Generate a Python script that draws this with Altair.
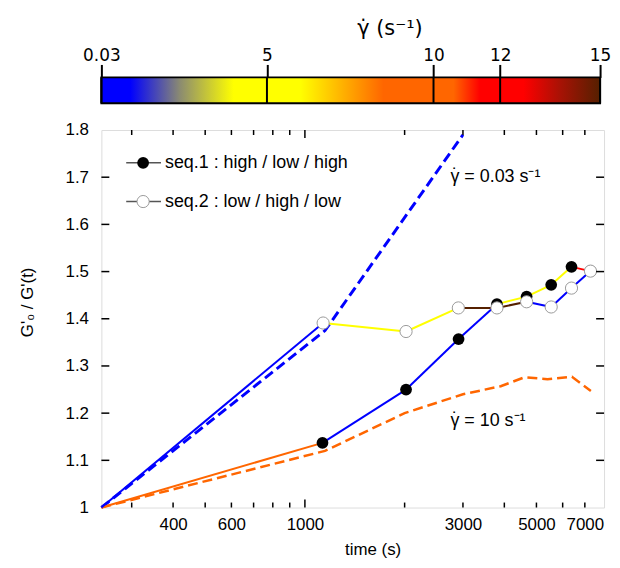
import altair as alt
import pandas as pd

# ---------------- data ----------------
T_START = 243
T_END = 8000
V_START = 1.0

seq1_t = [1130, 2020, 2910, 3800, 4670, 5540, 6380, 7280]
seq1_v = [1.137, 1.250, 1.357, 1.431, 1.447, 1.472, 1.510, 1.501]
seq1_rates = [10, 0.03, 0.03, 0.03, 5, 5, 5, 12]

seq2_t = [1135, 2020, 2905, 3800, 4670, 5540, 6380, 7280]
seq2_v = [1.391, 1.373, 1.423, 1.423, 1.436, 1.425, 1.465, 1.501]
seq2_rates = [0.03, 5, 5, 15, 15, 0.03, 0.03, 0.03]

ref003_t = [243, 1150, 3000]
ref003_v = [1.0, 1.375, 1.79]
ref10_t = [243, 1150, 2000, 3000, 3900, 4600, 5400, 6400, 7300]
ref10_v = [1.0, 1.12, 1.20, 1.24, 1.257, 1.276, 1.272, 1.277, 1.247]

cb_ticks = [0.03, 5, 10, 12, 15]
cb_stop_vals = [0.03, 0.9, 2.4, 4.0, 6.0, 8.5, 10.6, 11.4, 12.7, 13.8, 15]
cb_stop_cols = ["#0000ff", "#0000ff", "#8c8c70", "#ffff00", "#ffff00", "#ff6600",
                "#ff6600", "#ff0000", "#ff0000", "#a81205", "#552000"]

x_labels = [400, 600, 1000, 3000, 5000, 7000]
x_minor_ticks = [300, 400, 500, 600, 700, 800, 900, 2000, 3000, 4000, 5000, 6000, 7000]
x_major_ticks = [1000]
y_labels = [1.0, 1.1, 1.2, 1.3, 1.4, 1.5, 1.6, 1.7, 1.8]
y_ticks = [1.1, 1.2, 1.3, 1.4, 1.5, 1.6, 1.7]

legend_labels = ["seq.1 : high / low / high", "seq.2 : low / high / low"]
ann_t = [2750, 2750]
ann_v = [1.70, 1.183]
ann_text = ["γ = 0.03 s⁻¹", "γ = 10 s⁻¹"]

BLUE = "#0000ff"
ORANGE = "#ff6600"
FONT = "Liberation Sans"
CBFONT = "DejaVu Sans"
W, H = 506, 380
CBW, CBH = 502, 26

# ---------------- colour bar ----------------
lo, hi = min(cb_ticks), max(cb_ticks)
gradient = alt.LinearGradient(
    gradient="linear",
    stops=[alt.GradientStop(color=c, offset=(v - lo) / (hi - lo))
           for v, c in zip(cb_stop_vals, cb_stop_cols)],
    x1=0, x2=1, y1=0, y2=0,
)
cb_scale = alt.Scale(domain=[lo, hi], nice=False, zero=False)
cb_axis = alt.Axis(
    orient="top", values=cb_ticks, format="~g", grid=False, domain=False,
    tickSize=13, tickWidth=2, tickColor="black",
    labelFont=CBFONT, labelFontSize=17, labelColor="black", labelPadding=0,
    labelFlush=False, labelOverlap=False,
    title="γ̇ (s⁻¹)", titleFont=CBFONT, titleFontSize=21, titleFontWeight="normal",
    titleColor="black", titleX=290, titleY=-43, titleBaseline="alphabetic",
    titleAlign="center")
cb_rect = alt.Chart(pd.DataFrame({"lo": [lo], "hi": [hi]})).mark_rect(
    fill=gradient, stroke="black", strokeWidth=2
).encode(
    x=alt.X("lo:Q", scale=cb_scale, axis=cb_axis),
    x2="hi:Q",
)
cb_rules = alt.Chart(pd.DataFrame({"lo": cb_ticks})).mark_rule(
    color="black", strokeWidth=2
).encode(
    x=alt.X("lo:Q", scale=cb_scale, axis=cb_axis),
    y=alt.value(0), y2=alt.value(CBH),
)
colorbar = alt.layer(cb_rect, cb_rules).properties(width=CBW, height=CBH)

# ---------------- main plot ----------------
xs = alt.Scale(type="log", domain=[T_START, T_END], nice=False)
ys = alt.Scale(domain=[1.0, 1.8], nice=False, zero=False)
rate_scale = alt.Scale(domain=cb_stop_vals, range=cb_stop_cols, interpolate="rgb")

x_axis = alt.Axis(values=x_labels, format="d", grid=False, domain=False, ticks=False,
                  tickSize=0, labelFont=FONT, labelFontSize=17, labelColor="black",
                  labelPadding=9, labelFlush=False, labelOverlap=False,
                  title="time (s)", titleFont=FONT, titleFontSize=17,
                  titleFontWeight="normal", titleColor="black",
                  titleX=273, titleY=34, titleBaseline="top", titleAlign="center")
y_axis = alt.Axis(values=y_labels, format=".1~f", grid=False, domain=False, ticks=False,
                  tickSize=0, labelFont=FONT, labelFontSize=17, labelColor="black",
                  labelPadding=13, labelOverlap=False, labelFlush=False,
                  title="G'₀ / G'(t)", titleFont=FONT, titleFontSize=17,
                  titleFontWeight="normal", titleColor="black",
                  titleX=-74, titleY=173, titleBaseline="middle", titleAlign="center",
                  titleAngle=-90)


def segments(ts, vs, rates):
    pt = [T_START] + ts
    pv = [V_START] + vs
    return pd.DataFrame({"t": pt[:-1], "v": pv[:-1], "t2": pt[1:], "v2": pv[1:],
                         "rate": rates})


seg_df = pd.concat([segments(seq1_t, seq1_v, seq1_rates),
                    segments(seq2_t, seq2_v, seq2_rates)], ignore_index=True)

ref003 = alt.Chart(pd.DataFrame({"t": ref003_t, "v": ref003_v})).mark_line(
    color=BLUE, strokeDash=[10, 5], strokeWidth=3
).encode(x=alt.X("t:Q", scale=xs, axis=x_axis), y=alt.Y("v:Q", scale=ys, axis=y_axis))

ref10 = alt.Chart(pd.DataFrame({"t": ref10_t, "v": ref10_v})).mark_line(
    color=ORANGE, strokeDash=[10, 5], strokeWidth=2.5
).encode(x="t:Q", y="v:Q")

segs = alt.Chart(seg_df).mark_rule(strokeWidth=2).encode(
    x="t:Q", x2="t2:Q", y="v:Q", y2="v2:Q",
    color=alt.Color("rate:Q", scale=rate_scale, legend=None),
)

pts1 = alt.Chart(pd.DataFrame({"t": seq1_t, "v": seq1_v})).mark_circle(
    color="black", size=140, opacity=1
).encode(x="t:Q", y="v:Q")

pts2 = alt.Chart(pd.DataFrame({"t": seq2_t, "v": seq2_v})).mark_circle(
    fill="white", stroke="#9a9a9a", strokeWidth=1, size=150, opacity=1
).encode(x="t:Q", y="v:Q")

ann_df = pd.DataFrame({"t": ann_t, "v": ann_v, "label": ann_text})
ann = alt.Chart(ann_df).mark_text(
    align="left", baseline="middle", font=FONT, fontSize=18, color="black"
).encode(x="t:Q", y="v:Q", text="label:N")
ann_dot = alt.Chart(ann_df).mark_text(
    align="center", baseline="middle", font=FONT, fontSize=18, color="black", dx=4.5, dy=-1
).encode(x="t:Q", y="v:Q", text=alt.value("˙"))

# legend (positions in pixels of the plot area)
leg_df = pd.DataFrame({"label": legend_labels, "idx": [0, 1]})
legend_layers = []
for i, ly in enumerate([33, 72]):
    base = alt.Chart(leg_df).transform_filter(alt.datum.idx == i)
    legend_layers.append(base.mark_rule(color="#555555", strokeWidth=1.5).encode(
        x=alt.value(25), x2=alt.value(60), y=alt.value(ly)))
    if i == 0:
        legend_layers.append(base.mark_circle(color="black", size=140, opacity=1).encode(
            x=alt.value(42), y=alt.value(ly)))
    else:
        legend_layers.append(base.mark_circle(fill="white", stroke="#9a9a9a", strokeWidth=1,
                                              size=150, opacity=1).encode(
            x=alt.value(42), y=alt.value(ly)))
    legend_layers.append(base.mark_text(align="left", baseline="middle", font=FONT,
                                        fontSize=18, color="black").encode(
        x=alt.value(64), y=alt.value(ly), text="label:N"))

# inward ticks
TICK = 5
TICKM = 8
xt_min = pd.DataFrame({"t": x_minor_ticks})
xt_maj = pd.DataFrame({"t": x_major_ticks})
yt = pd.DataFrame({"v": y_ticks})
tick_layers = [
    alt.Chart(xt_min).mark_rule(color="black", strokeWidth=1.5).encode(
        x="t:Q", y=alt.value(H), y2=alt.value(H - TICK)),
    alt.Chart(xt_min).mark_rule(color="black", strokeWidth=1.5).encode(
        x="t:Q", y=alt.value(0), y2=alt.value(TICK)),
    alt.Chart(xt_maj).mark_rule(color="black", strokeWidth=1.5).encode(
        x="t:Q", y=alt.value(H), y2=alt.value(H - TICKM)),
    alt.Chart(xt_maj).mark_rule(color="black", strokeWidth=1.5).encode(
        x="t:Q", y=alt.value(0), y2=alt.value(TICKM)),
    alt.Chart(yt).mark_rule(color="black", strokeWidth=1.5).encode(
        y="v:Q", x=alt.value(0), x2=alt.value(TICKM)),
    alt.Chart(yt).mark_rule(color="black", strokeWidth=1.5).encode(
        y="v:Q", x=alt.value(W), x2=alt.value(W - TICKM)),
]

main = alt.layer(ref003, ref10, segs, pts1, pts2, ann, ann_dot, *legend_layers,
                 *tick_layers).properties(width=W, height=H)

chart = alt.vconcat(colorbar, main, spacing=15).resolve_scale(
    x="independent", y="independent", color="independent"
).properties(
    padding={"left": 10, "top": 7, "right": 0, "bottom": 0}
).configure_view(stroke="black", strokeWidth=2).configure(background="white")

chart.save("out.html", embed_options={"renderer": "svg", "actions": False})
